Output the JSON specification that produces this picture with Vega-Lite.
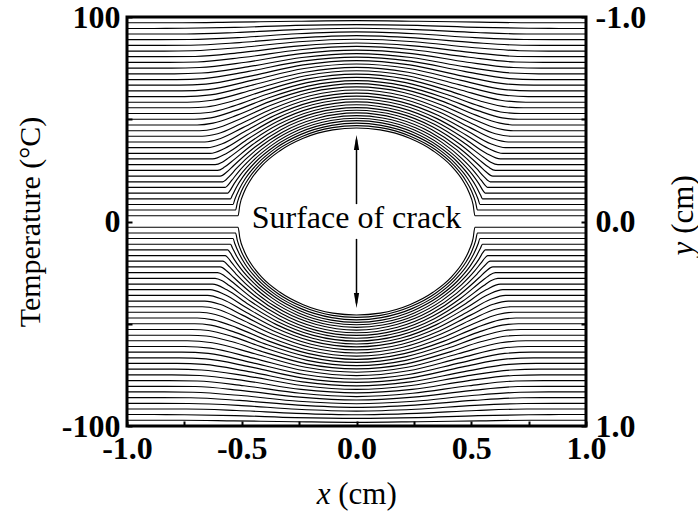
{
"$schema": "https://vega.github.io/schema/vega-lite/v6.json",
"width": 459, "height": 409,
"autosize": {"type": "none"},
"padding": {"left": 127, "top": 17, "right": 112, "bottom": 92},
"background": "white",
"config": {"view": {"stroke": "black", "strokeWidth": 3}, "axis": {"grid": false}},
"resolve": {"scale": {"x": "independent", "y": "independent"}},
"layer": [
{"layer": [
{"data": {"values": [
{"k":1,"x":[-1,-0.516,-0.508,-0.49,-0.465,-0.413,-0.335,-0.232,-0.103,0,0.103,0.232,0.335,0.413,0.465,0.49,0.508,0.516,1],"y":[-0.028,-0.028,-0.083,-0.143,-0.197,-0.272,-0.345,-0.407,-0.448,-0.457,-0.448,-0.407,-0.345,-0.272,-0.197,-0.143,-0.083,-0.028,-0.028]},
{"k":-1,"x":[-1,-0.516,-0.508,-0.49,-0.465,-0.413,-0.335,-0.232,-0.103,0,0.103,0.232,0.335,0.413,0.465,0.49,0.508,0.516,1],"y":[0.028,0.028,0.083,0.143,0.197,0.272,0.345,0.407,0.448,0.457,0.448,0.407,0.345,0.272,0.197,0.143,0.083,0.028,0.028]},
{"k":2,"x":[-1,-0.527,-0.519,-0.501,-0.475,-0.422,-0.343,-0.237,-0.105,0,0.105,0.237,0.343,0.422,0.475,0.501,0.519,0.527,1],"y":[-0.056,-0.056,-0.094,-0.149,-0.202,-0.277,-0.352,-0.416,-0.459,-0.469,-0.459,-0.416,-0.352,-0.277,-0.202,-0.149,-0.094,-0.056,-0.056]},
{"k":-2,"x":[-1,-0.527,-0.519,-0.501,-0.475,-0.422,-0.343,-0.237,-0.105,0,0.105,0.237,0.343,0.422,0.475,0.501,0.519,0.527,1],"y":[0.056,0.056,0.094,0.149,0.202,0.277,0.352,0.416,0.459,0.469,0.459,0.416,0.352,0.277,0.202,0.149,0.094,0.056,0.056]},
{"k":3,"x":[-1,-0.538,-0.53,-0.511,-0.485,-0.431,-0.35,-0.242,-0.108,0,0.108,0.242,0.35,0.431,0.485,0.511,0.53,0.538,1],"y":[-0.083,-0.083,-0.109,-0.158,-0.209,-0.283,-0.36,-0.426,-0.47,-0.481,-0.47,-0.426,-0.36,-0.283,-0.209,-0.158,-0.109,-0.083,-0.083]},
{"k":-3,"x":[-1,-0.538,-0.53,-0.511,-0.485,-0.431,-0.35,-0.242,-0.108,0,0.108,0.242,0.35,0.431,0.485,0.511,0.53,0.538,1],"y":[0.083,0.083,0.109,0.158,0.209,0.283,0.36,0.426,0.47,0.481,0.47,0.426,0.36,0.283,0.209,0.158,0.109,0.083,0.083]},
{"k":4,"x":[-1,-0.549,-0.541,-0.522,-0.495,-0.44,-0.357,-0.247,-0.11,0,0.11,0.247,0.357,0.44,0.495,0.522,0.541,0.549,1],"y":[-0.111,-0.111,-0.128,-0.17,-0.218,-0.291,-0.368,-0.436,-0.482,-0.493,-0.482,-0.436,-0.368,-0.291,-0.218,-0.17,-0.128,-0.111,-0.111]},
{"k":-4,"x":[-1,-0.549,-0.541,-0.522,-0.495,-0.44,-0.357,-0.247,-0.11,0,0.11,0.247,0.357,0.44,0.495,0.522,0.541,0.549,1],"y":[0.111,0.111,0.128,0.17,0.218,0.291,0.368,0.436,0.482,0.493,0.482,0.436,0.368,0.291,0.218,0.17,0.128,0.111,0.111]},
{"k":5,"x":[-1,-0.561,-0.552,-0.533,-0.505,-0.448,-0.364,-0.252,-0.112,0,0.112,0.252,0.364,0.448,0.505,0.533,0.552,0.561,1],"y":[-0.139,-0.139,-0.15,-0.185,-0.229,-0.3,-0.377,-0.447,-0.494,-0.505,-0.494,-0.447,-0.377,-0.3,-0.229,-0.185,-0.15,-0.139,-0.139]},
{"k":-5,"x":[-1,-0.561,-0.552,-0.533,-0.505,-0.448,-0.364,-0.252,-0.112,0,0.112,0.252,0.364,0.448,0.505,0.533,0.552,0.561,1],"y":[0.139,0.139,0.15,0.185,0.229,0.3,0.377,0.447,0.494,0.505,0.494,0.447,0.377,0.3,0.229,0.185,0.15,0.139,0.139]},
{"k":6,"x":[-1,-0.572,-0.563,-0.543,-0.515,-0.457,-0.372,-0.257,-0.114,0,0.114,0.257,0.372,0.457,0.515,0.543,0.563,0.572,1],"y":[-0.167,-0.167,-0.174,-0.202,-0.242,-0.31,-0.387,-0.458,-0.506,-0.518,-0.506,-0.458,-0.387,-0.31,-0.242,-0.202,-0.174,-0.167,-0.167]},
{"k":-6,"x":[-1,-0.572,-0.563,-0.543,-0.515,-0.457,-0.372,-0.257,-0.114,0,0.114,0.257,0.372,0.457,0.515,0.543,0.563,0.572,1],"y":[0.167,0.167,0.174,0.202,0.242,0.31,0.387,0.458,0.506,0.518,0.506,0.458,0.387,0.31,0.242,0.202,0.174,0.167,0.167]},
{"k":7,"x":[-1,-0.583,-0.554,-0.525,-0.437,-0.321,-0.175,0,0.175,0.321,0.437,0.525,0.554,0.583,1],"y":[-0.194,-0.194,-0.221,-0.257,-0.35,-0.438,-0.504,-0.531,-0.504,-0.438,-0.35,-0.257,-0.221,-0.194,-0.194]},
{"k":-7,"x":[-1,-0.583,-0.554,-0.525,-0.437,-0.321,-0.175,0,0.175,0.321,0.437,0.525,0.554,0.583,1],"y":[0.194,0.194,0.221,0.257,0.35,0.438,0.504,0.531,0.504,0.438,0.35,0.257,0.221,0.194,0.194]},
{"k":8,"x":[-1,-0.594,-0.564,-0.535,-0.445,-0.327,-0.178,0,0.178,0.327,0.445,0.535,0.564,0.594,1],"y":[-0.222,-0.222,-0.243,-0.274,-0.362,-0.45,-0.517,-0.544,-0.517,-0.45,-0.362,-0.274,-0.243,-0.222,-0.222]},
{"k":-8,"x":[-1,-0.594,-0.564,-0.535,-0.445,-0.327,-0.178,0,0.178,0.327,0.445,0.535,0.564,0.594,1],"y":[0.222,0.222,0.243,0.274,0.362,0.45,0.517,0.544,0.517,0.45,0.362,0.274,0.243,0.222,0.222]},
{"k":9,"x":[-1,-0.605,-0.575,-0.545,-0.454,-0.333,-0.182,0,0.182,0.333,0.454,0.545,0.575,0.605,1],"y":[-0.25,-0.25,-0.266,-0.292,-0.375,-0.462,-0.53,-0.557,-0.53,-0.462,-0.375,-0.292,-0.266,-0.25,-0.25]},
{"k":-9,"x":[-1,-0.605,-0.575,-0.545,-0.454,-0.333,-0.182,0,0.182,0.333,0.454,0.545,0.575,0.605,1],"y":[0.25,0.25,0.266,0.292,0.375,0.462,0.53,0.557,0.53,0.462,0.375,0.292,0.266,0.25,0.25]},
{"k":10,"x":[-1,-0.616,-0.585,-0.555,-0.462,-0.339,-0.185,0,0.185,0.339,0.462,0.555,0.585,0.616,1],"y":[-0.278,-0.278,-0.29,-0.313,-0.39,-0.475,-0.543,-0.571,-0.543,-0.475,-0.39,-0.313,-0.29,-0.278,-0.278]},
{"k":-10,"x":[-1,-0.616,-0.585,-0.555,-0.462,-0.339,-0.185,0,0.185,0.339,0.462,0.555,0.585,0.616,1],"y":[0.278,0.278,0.29,0.313,0.39,0.475,0.543,0.571,0.543,0.475,0.39,0.313,0.29,0.278,0.278]},
{"k":11,"x":[-1,-0.627,-0.565,-0.47,-0.345,-0.188,0,0.188,0.345,0.47,0.565,0.627,1],"y":[-0.306,-0.306,-0.334,-0.406,-0.489,-0.557,-0.585,-0.557,-0.489,-0.406,-0.334,-0.306,-0.306]},
{"k":-11,"x":[-1,-0.627,-0.565,-0.47,-0.345,-0.188,0,0.188,0.345,0.47,0.565,0.627,1],"y":[0.306,0.306,0.334,0.406,0.489,0.557,0.585,0.557,0.489,0.406,0.334,0.306,0.306]},
{"k":12,"x":[-1,-0.638,-0.575,-0.479,-0.351,-0.192,0,0.192,0.351,0.479,0.575,0.638,1],"y":[-0.333,-0.333,-0.357,-0.422,-0.503,-0.571,-0.599,-0.571,-0.503,-0.422,-0.357,-0.333,-0.333]},
{"k":-12,"x":[-1,-0.638,-0.575,-0.479,-0.351,-0.192,0,0.192,0.351,0.479,0.575,0.638,1],"y":[0.333,0.333,0.357,0.422,0.503,0.571,0.599,0.571,0.503,0.422,0.357,0.333,0.333]},
{"k":13,"x":[-1,-0.649,-0.585,-0.487,-0.357,-0.195,0,0.195,0.357,0.487,0.585,0.649,1],"y":[-0.361,-0.361,-0.38,-0.44,-0.518,-0.585,-0.613,-0.585,-0.518,-0.44,-0.38,-0.361,-0.361]},
{"k":-13,"x":[-1,-0.649,-0.585,-0.487,-0.357,-0.195,0,0.195,0.357,0.487,0.585,0.649,1],"y":[0.361,0.361,0.38,0.44,0.518,0.585,0.613,0.585,0.518,0.44,0.38,0.361,0.361]},
{"k":14,"x":[-1,-0.661,-0.595,-0.495,-0.363,-0.198,0,0.198,0.363,0.495,0.595,0.661,1],"y":[-0.389,-0.389,-0.405,-0.459,-0.534,-0.6,-0.628,-0.6,-0.534,-0.459,-0.405,-0.389,-0.389]},
{"k":-14,"x":[-1,-0.661,-0.595,-0.495,-0.363,-0.198,0,0.198,0.363,0.495,0.595,0.661,1],"y":[0.389,0.389,0.405,0.459,0.534,0.6,0.628,0.6,0.534,0.459,0.405,0.389,0.389]},
{"k":15,"x":[-1,-0.672,-0.605,-0.504,-0.369,-0.202,0,0.202,0.369,0.504,0.605,0.672,1],"y":[-0.417,-0.417,-0.429,-0.478,-0.55,-0.615,-0.643,-0.615,-0.55,-0.478,-0.429,-0.417,-0.417]},
{"k":-15,"x":[-1,-0.672,-0.605,-0.504,-0.369,-0.202,0,0.202,0.369,0.504,0.605,0.672,1],"y":[0.417,0.417,0.429,0.478,0.55,0.615,0.643,0.615,0.55,0.478,0.429,0.417,0.417]},
{"k":16,"x":[-1,-0.683,-0.615,-0.512,-0.376,-0.205,0,0.205,0.376,0.512,0.615,0.683,1],"y":[-0.444,-0.444,-0.455,-0.499,-0.567,-0.631,-0.658,-0.631,-0.567,-0.499,-0.455,-0.444,-0.444]},
{"k":-16,"x":[-1,-0.683,-0.615,-0.512,-0.376,-0.205,0,0.205,0.376,0.512,0.615,0.683,1],"y":[0.444,0.444,0.455,0.499,0.567,0.631,0.658,0.631,0.567,0.499,0.455,0.444,0.444]},
{"k":17,"x":[-1,-0.694,-0.625,-0.52,-0.382,-0.208,0,0.208,0.382,0.52,0.625,0.694,1],"y":[-0.472,-0.472,-0.481,-0.52,-0.585,-0.646,-0.674,-0.646,-0.585,-0.52,-0.481,-0.472,-0.472]},
{"k":-17,"x":[-1,-0.694,-0.625,-0.52,-0.382,-0.208,0,0.208,0.382,0.52,0.625,0.694,1],"y":[0.472,0.472,0.481,0.52,0.585,0.646,0.674,0.646,0.585,0.52,0.481,0.472,0.472]},
{"k":18,"x":[-1,-0.705,-0.635,-0.529,-0.388,-0.212,0,0.212,0.388,0.529,0.635,0.705,1],"y":[-0.5,-0.5,-0.507,-0.542,-0.603,-0.662,-0.689,-0.662,-0.603,-0.542,-0.507,-0.5,-0.5]},
{"k":-18,"x":[-1,-0.705,-0.635,-0.529,-0.388,-0.212,0,0.212,0.388,0.529,0.635,0.705,1],"y":[0.5,0.5,0.507,0.542,0.603,0.662,0.689,0.662,0.603,0.542,0.507,0.5,0.5]},
{"k":19,"x":[-1,-0.716,-0.645,-0.537,-0.394,-0.215,0,0.215,0.394,0.537,0.645,0.716,1],"y":[-0.528,-0.528,-0.533,-0.564,-0.621,-0.679,-0.705,-0.679,-0.621,-0.564,-0.533,-0.528,-0.528]},
{"k":-19,"x":[-1,-0.716,-0.645,-0.537,-0.394,-0.215,0,0.215,0.394,0.537,0.645,0.716,1],"y":[0.528,0.528,0.533,0.564,0.621,0.679,0.705,0.679,0.621,0.564,0.533,0.528,0.528]},
{"k":20,"x":[-1,-0.727,-0.655,-0.545,-0.4,-0.218,0,0.218,0.4,0.545,0.655,0.727,1],"y":[-0.556,-0.556,-0.56,-0.587,-0.64,-0.696,-0.721,-0.696,-0.64,-0.587,-0.56,-0.556,-0.556]},
{"k":-20,"x":[-1,-0.727,-0.655,-0.545,-0.4,-0.218,0,0.218,0.4,0.545,0.655,0.727,1],"y":[0.556,0.556,0.56,0.587,0.64,0.696,0.721,0.696,0.64,0.587,0.56,0.556,0.556]},
{"k":21,"x":[-1,-0.738,-0.628,-0.443,-0.222,0,0.222,0.443,0.628,0.738,1],"y":[-0.583,-0.583,-0.593,-0.647,-0.713,-0.737,-0.713,-0.647,-0.593,-0.583,-0.583]},
{"k":-21,"x":[-1,-0.738,-0.628,-0.443,-0.222,0,0.222,0.443,0.628,0.738,1],"y":[0.583,0.583,0.593,0.647,0.713,0.737,0.713,0.647,0.593,0.583,0.583]},
{"k":22,"x":[-1,-0.749,-0.637,-0.45,-0.225,0,0.225,0.45,0.637,0.749,1],"y":[-0.611,-0.611,-0.619,-0.668,-0.73,-0.754,-0.73,-0.668,-0.619,-0.611,-0.611]},
{"k":-22,"x":[-1,-0.749,-0.637,-0.45,-0.225,0,0.225,0.45,0.637,0.749,1],"y":[0.611,0.611,0.619,0.668,0.73,0.754,0.73,0.668,0.619,0.611,0.611]},
{"k":23,"x":[-1,-0.761,-0.646,-0.456,-0.228,0,0.228,0.456,0.646,0.761,1],"y":[-0.639,-0.639,-0.645,-0.69,-0.748,-0.77,-0.748,-0.69,-0.645,-0.639,-0.639]},
{"k":-23,"x":[-1,-0.761,-0.646,-0.456,-0.228,0,0.228,0.456,0.646,0.761,1],"y":[0.639,0.639,0.645,0.69,0.748,0.77,0.748,0.69,0.645,0.639,0.639]},
{"k":24,"x":[-1,-0.772,-0.656,-0.463,-0.232,0,0.232,0.463,0.656,0.772,1],"y":[-0.667,-0.667,-0.672,-0.711,-0.766,-0.787,-0.766,-0.711,-0.672,-0.667,-0.667]},
{"k":-24,"x":[-1,-0.772,-0.656,-0.463,-0.232,0,0.232,0.463,0.656,0.772,1],"y":[0.667,0.667,0.672,0.711,0.766,0.787,0.766,0.711,0.672,0.667,0.667]},
{"k":25,"x":[-1,-0.783,-0.665,-0.47,-0.235,0,0.235,0.47,0.665,0.783,1],"y":[-0.694,-0.694,-0.699,-0.734,-0.784,-0.804,-0.784,-0.734,-0.699,-0.694,-0.694]},
{"k":-25,"x":[-1,-0.783,-0.665,-0.47,-0.235,0,0.235,0.47,0.665,0.783,1],"y":[0.694,0.694,0.699,0.734,0.784,0.804,0.784,0.734,0.699,0.694,0.694]},
{"k":26,"x":[-1,-0.794,-0.675,-0.476,-0.238,0,0.238,0.476,0.675,0.794,1],"y":[-0.722,-0.722,-0.726,-0.756,-0.802,-0.821,-0.802,-0.756,-0.726,-0.722,-0.722]},
{"k":-26,"x":[-1,-0.794,-0.675,-0.476,-0.238,0,0.238,0.476,0.675,0.794,1],"y":[0.722,0.722,0.726,0.756,0.802,0.821,0.802,0.756,0.726,0.722,0.722]},
{"k":27,"x":[-1,-0.805,-0.684,-0.483,-0.242,0,0.242,0.483,0.684,0.805,1],"y":[-0.75,-0.75,-0.753,-0.779,-0.821,-0.838,-0.821,-0.779,-0.753,-0.75,-0.75]},
{"k":-27,"x":[-1,-0.805,-0.684,-0.483,-0.242,0,0.242,0.483,0.684,0.805,1],"y":[0.75,0.75,0.753,0.779,0.821,0.838,0.821,0.779,0.753,0.75,0.75]},
{"k":28,"x":[-1,-0.816,-0.694,-0.49,-0.245,0,0.245,0.49,0.694,0.816,1],"y":[-0.778,-0.778,-0.78,-0.803,-0.84,-0.856,-0.84,-0.803,-0.78,-0.778,-0.778]},
{"k":-28,"x":[-1,-0.816,-0.694,-0.49,-0.245,0,0.245,0.49,0.694,0.816,1],"y":[0.778,0.778,0.78,0.803,0.84,0.856,0.84,0.803,0.78,0.778,0.778]},
{"k":29,"x":[-1,-0.827,-0.703,-0.496,-0.248,0,0.248,0.496,0.703,0.827,1],"y":[-0.806,-0.806,-0.807,-0.827,-0.859,-0.873,-0.859,-0.827,-0.807,-0.806,-0.806]},
{"k":-29,"x":[-1,-0.827,-0.703,-0.496,-0.248,0,0.248,0.496,0.703,0.827,1],"y":[0.806,0.806,0.807,0.827,0.859,0.873,0.859,0.827,0.807,0.806,0.806]},
{"k":30,"x":[-1,-0.838,-0.713,-0.503,-0.252,0,0.252,0.503,0.713,0.838,1],"y":[-0.833,-0.833,-0.835,-0.851,-0.879,-0.891,-0.879,-0.851,-0.835,-0.833,-0.833]},
{"k":-30,"x":[-1,-0.838,-0.713,-0.503,-0.252,0,0.252,0.503,0.713,0.838,1],"y":[0.833,0.833,0.835,0.851,0.879,0.891,0.879,0.851,0.835,0.833,0.833]},
{"k":31,"x":[-1,-0.849,-0.722,-0.51,-0.255,0,0.255,0.51,0.722,0.849,1],"y":[-0.861,-0.861,-0.862,-0.875,-0.898,-0.909,-0.898,-0.875,-0.862,-0.861,-0.861]},
{"k":-31,"x":[-1,-0.849,-0.722,-0.51,-0.255,0,0.255,0.51,0.722,0.849,1],"y":[0.861,0.861,0.862,0.875,0.898,0.909,0.898,0.875,0.862,0.861,0.861]},
{"k":32,"x":[-1,-0.861,-0.731,-0.516,-0.258,0,0.258,0.516,0.731,0.861,1],"y":[-0.889,-0.889,-0.89,-0.899,-0.918,-0.927,-0.918,-0.899,-0.89,-0.889,-0.889]},
{"k":-32,"x":[-1,-0.861,-0.731,-0.516,-0.258,0,0.258,0.516,0.731,0.861,1],"y":[0.889,0.889,0.89,0.899,0.918,0.927,0.918,0.899,0.89,0.889,0.889]},
{"k":33,"x":[-1,-0.872,-0.741,-0.523,-0.262,0,0.262,0.523,0.741,0.872,1],"y":[-0.917,-0.917,-0.917,-0.924,-0.938,-0.945,-0.938,-0.924,-0.917,-0.917,-0.917]},
{"k":-33,"x":[-1,-0.872,-0.741,-0.523,-0.262,0,0.262,0.523,0.741,0.872,1],"y":[0.917,0.917,0.917,0.924,0.938,0.945,0.938,0.924,0.917,0.917,0.917]},
{"k":34,"x":[-1,-0.883,-0.75,-0.53,-0.265,0,0.265,0.53,0.75,0.883,1],"y":[-0.944,-0.944,-0.945,-0.949,-0.959,-0.963,-0.959,-0.949,-0.945,-0.944,-0.944]},
{"k":-34,"x":[-1,-0.883,-0.75,-0.53,-0.265,0,0.265,0.53,0.75,0.883,1],"y":[0.944,0.944,0.945,0.949,0.959,0.963,0.959,0.949,0.945,0.944,0.944]},
{"k":35,"x":[-1,-0.894,-0.76,-0.536,-0.268,0,0.268,0.536,0.76,0.894,1],"y":[-0.972,-0.972,-0.972,-0.975,-0.979,-0.982,-0.979,-0.975,-0.972,-0.972,-0.972]},
{"k":-35,"x":[-1,-0.894,-0.76,-0.536,-0.268,0,0.268,0.536,0.76,0.894,1],"y":[0.972,0.972,0.972,0.975,0.979,0.982,0.979,0.975,0.972,0.972,0.972]}
]},
"transform": [{"flatten": ["x", "y"]}],
"mark": {"type": "line", "color": "black", "strokeWidth": 1.15, "interpolate": "monotone", "clip": true},
"encoding": {
"x": {"field": "x", "type": "quantitative", "scale": {"domain": [-1, 1], "nice": false, "zero": false},
"axis": {"orient": "bottom", "values": [-1, -0.75, -0.5, -0.25, 0, 0.25, 0.5, 0.75, 1],
"labelExpr": "datum.value == -1 ? '-1.0' : datum.value == -0.5 ? '-0.5' : datum.value == 0 ? '0.0' : datum.value == 0.5 ? '0.5' : datum.value == 1 ? '1.0' : ''",
"domain": false, "tickSize": -5, "tickWidth": 2, "tickColor": "black", "labelOverlap": false, "labelFlush": false,
"labelFont": "Liberation Serif", "labelFontWeight": "bold", "labelFontSize": 32, "labelColor": "black", "labelPadding": 12,
"title": "(cm)", "titleFont": "Liberation Serif", "titleFontWeight": "normal", "titleFontSize": 31, "titleColor": "black",
"titleX": 240, "titleY": 77, "titleBaseline": "alphabetic", "titleAlign": "center"}},
"y": {"field": "y", "type": "quantitative", "scale": {"domain": [-1, 1], "reverse": true, "nice": false, "zero": false},
"axis": {"orient": "right", "values": [-1, -0.5, 0, 0.5, 1],
"labelExpr": "datum.value == -1 ? '-1.0' : datum.value == 0 ? '0.0' : datum.value == 1 ? '1.0' : ''",
"domain": false, "tickSize": -5, "tickWidth": 2, "tickColor": "black", "labelOverlap": false, "labelFlush": false,
"labelFont": "Liberation Serif", "labelFontWeight": "bold", "labelFontSize": 32, "labelColor": "black", "labelPadding": 14,
"title": "(cm)", "titleFont": "Liberation Serif", "titleFontWeight": "normal", "titleFontSize": 31, "titleColor": "black",
"titleX": 97, "titleY": 187, "titleAngle": 270, "titleBaseline": "middle", "titleAlign": "center"}},
"detail": {"field": "k", "type": "nominal"}
}},
{"data": {"values": [{"x": 0, "y": -0.4, "y2": -0.085}, {"x": 0, "y": 0.085, "y2": 0.4}]},
"mark": {"type": "rule", "color": "black", "strokeWidth": 1.5},
"encoding": {
"x": {"field": "x", "type": "quantitative", "scale": {"domain": [-1, 1], "nice": false, "zero": false}},
"y": {"field": "y", "type": "quantitative", "scale": {"domain": [-1, 1], "reverse": true, "nice": false, "zero": false}},
"y2": {"field": "y2"}
}},
{"data": {"values": [{"x": 0, "y": -0.386, "a": 0}, {"x": 0, "y": 0.386, "a": 180}]},
"mark": {"type": "point", "shape": "M0,-1L0.35,1L-0.35,1Z", "filled": true, "size": 225, "color": "black", "opacity": 1, "strokeWidth": 0},
"encoding": {
"x": {"field": "x", "type": "quantitative", "scale": {"domain": [-1, 1], "nice": false, "zero": false}},
"y": {"field": "y", "type": "quantitative", "scale": {"domain": [-1, 1], "reverse": true, "nice": false, "zero": false}},
"angle": {"field": "a", "type": "quantitative", "scale": null}
}},
{"data": {"values": [{"x": 0, "y": 0.032, "t": "Surface of crack"}]},
"mark": {"type": "text", "font": "Liberation Serif", "fontSize": 32, "baseline": "alphabetic", "align": "center", "color": "black"},
"encoding": {
"x": {"field": "x", "type": "quantitative", "scale": {"domain": [-1, 1], "nice": false, "zero": false}},
"y": {"field": "y", "type": "quantitative", "scale": {"domain": [-1, 1], "reverse": true, "nice": false, "zero": false}},
"text": {"field": "t"}
}}
]},
{"data": {"values": [{"T": 0, "u": 0}]},
"mark": {"type": "point", "opacity": 0},
"encoding": {
"x": {"field": "u", "type": "quantitative", "scale": {"domain": [-1, 1], "nice": false, "zero": false},
"axis": {"orient": "bottom", "labels": false, "ticks": false, "domain": false, "grid": false,
"title": "x", "titleFont": "Liberation Serif", "titleFontStyle": "italic", "titleFontWeight": "normal", "titleFontSize": 31, "titleColor": "black",
"titleX": 196, "titleY": 77, "titleBaseline": "alphabetic", "titleAlign": "center"}},
"y": {"field": "T", "type": "quantitative", "scale": {"domain": [-100, 100], "nice": false, "zero": false},
"axis": {"orient": "left", "values": [-100, -50, 0, 50, 100],
"labelExpr": "datum.value == 100 ? '100' : datum.value == 0 ? '0' : datum.value == -100 ? '-100' : ''",
"domain": false, "tickSize": -5, "tickWidth": 2, "tickColor": "black", "labelOverlap": false, "labelFlush": false,
"labelFont": "Liberation Serif", "labelFontWeight": "bold", "labelFontSize": 32, "labelColor": "black", "labelPadding": 12,
"title": "Temperature (°C)", "titleFont": "Liberation Serif", "titleFontWeight": "normal", "titleFontSize": 30, "titleColor": "black",
"titleX": -97, "titleY": 204.5, "titleAngle": 270, "titleBaseline": "middle", "titleAlign": "center"}}
}},
{"data": {"values": [{"v": 0}]},
"mark": {"type": "point", "opacity": 0},
"encoding": {
"y": {"field": "v", "type": "quantitative", "scale": {"domain": [-1, 1], "nice": false, "zero": false},
"axis": {"orient": "right", "labels": false, "ticks": false, "domain": false, "grid": false,
"title": "y", "titleFont": "Liberation Serif", "titleFontStyle": "italic", "titleFontWeight": "normal", "titleFontSize": 31, "titleColor": "black",
"titleX": 97, "titleY": 231, "titleAngle": 270, "titleBaseline": "middle", "titleAlign": "center"}}
}}
]
}
